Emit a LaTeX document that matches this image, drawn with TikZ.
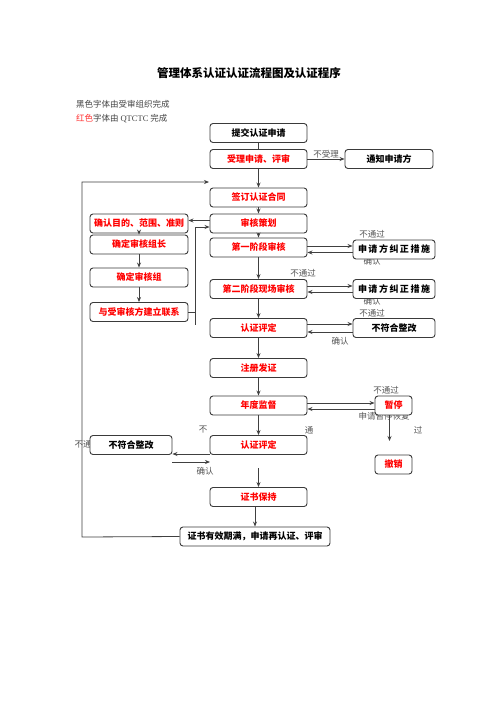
\documentclass[tikz,border=0pt]{standalone}
\usepackage{fontspec}
\setmainfont{Noto Sans CJK SC}
\newfontfamily\latinserif{Liberation Serif}
\usetikzlibrary{arrows.meta}
\definecolor{boxc}{HTML}{3A3A3A}
\definecolor{linec}{HTML}{404040}
\definecolor{labc}{HTML}{555555}
\definecolor{legc}{HTML}{444444}
\begin{document}
\begin{tikzpicture}[x=1pt,y=-1pt,
  box/.style={draw=boxc, line width=0.9pt, rounded corners=3pt, fill=white,
    minimum height=19pt, inner sep=0pt, font=\bfseries\fontsize{9}{10}\selectfont},
  rbox/.style={box, text=red},
  cbox/.style={rbox, minimum width=97pt},
  lbox/.style={rbox, minimum width=98pt},
  lab/.style={font=\fontsize{8.5}{9}\selectfont, text=labc, inner sep=0pt},
  arr/.style={-{Stealth[length=5pt,width=4pt]}, draw=linec, line width=0.8pt},
  ln/.style={draw=linec, line width=0.8pt}]
\useasboundingbox (0,0) rectangle (496,702);
\fill[white] (0,0) rectangle (496,702);

% title and legend
\node[font=\bfseries\fontsize{11.5}{12}\selectfont] (title) at (249,73) {管理体系认证认证流程图及认证程序};
\node[anchor=west, font=\fontsize{8.5}{9}\selectfont, text=legc, inner sep=0pt] (leg1) at (76,104) {黑色字体由受审组织完成};
\node[anchor=west, font=\fontsize{8.5}{9}\selectfont, text=legc, inner sep=0pt] (leg2) at (76,119) {\textcolor{red!80!white}{红色}字体由 {\latinserif QTCTC} 完成};

% labels drawn before boxes (some are partly covered)
\node[lab] (t1) at (372,261.5) {确认};
\node[lab] (t2) at (372,301) {确认};
\node[lab] (t3) at (384,416.5) {申请暂停恢复};
\node[lab] (t4) at (83,444) {不通};

% centre column
\node[box, minimum width=97pt] (n1) at (258.5,133) {提交认证申请};
\node[cbox] (n2) at (258.5,159) {受理申请、评审};
\node[cbox] (n3) at (258.5,197.5) {签订认证合同};
\node[cbox] (n4) at (258.5,223.5) {审核策划};
\node[cbox] (n5) at (258.5,247.5) {第一阶段审核};
\node[cbox] (n6) at (258.5,289) {第二阶段现场审核};
\node[cbox] (n7) at (258.5,328) {认证评定};
\node[cbox] (n8) at (258.5,368) {注册发证};
\node[cbox] (n9) at (258.5,405.5) {年度监督};
\node[cbox] (n10) at (258.5,445) {认证评定};
\node[cbox] (n11) at (258.5,497) {证书保持};
\node[box, minimum width=150pt] (n12) at (255,536.5) {证书有效期满，申请再认证、评审};

% left column
\node[lbox] (l1) at (139,223.5) {确认目的、范围、准则};
\node[lbox] (l2) at (139,244.5) {确定审核组长};
\node[lbox] (l3) at (139,277.5) {确定审核组};
\node[lbox] (l4) at (139,312) {与受审核方建立联系};
\node[box, minimum width=82pt] (ll) at (131,445) {不符合整改};

% right column
\node[box, minimum width=88pt] (r0) at (389,159) {通知申请方};
\node[box, minimum width=82pt] (r1) at (394,249.5) {申\,请\,方\,纠\,正\,措\,施};
\node[box, minimum width=82pt] (r2) at (394,289) {申\,请\,方\,纠\,正\,措\,施};
\node[box, minimum width=82pt] (r3) at (394,328) {不符合整改};
\node[rbox, minimum width=37pt] (r4) at (393.5,405.5) {暂停};
\node[rbox, minimum width=37pt] (r5) at (393.5,464.5) {撤销};

% other labels
\node[lab] (t5) at (326,154) {不受理};
\node[lab] (t6) at (372,234) {不通过};
\node[lab] (t7) at (303,273) {不通过};
\node[lab] (t8) at (372,313) {不通过};
\node[lab] (t9) at (340,341) {确认};
\node[lab] (t10) at (386,390) {不通过};
\node[lab] (t11) at (203,430) {不};
\node[lab] (t12) at (309,430) {通};
\node[lab] (t13) at (418,430) {过};
\node[lab] (t14) at (205,471) {确认};

% centre flow
\draw[ln] (n1) -- (n2);
\draw[arr] (n2) -- (r0);
\draw[arr] (n2) -- (n3);
\draw[arr] (n3) -- (n4);
\draw[arr] (n4) -- (n5);
\draw[arr] (n5) -- (n6);
\draw[arr] (n6) -- (n7);
\draw[arr] (n7) -- (n8);
\draw[arr] (n8) -- (n9);
\draw[arr] (n9) -- (n10);
\coordinate (c10) at (258.5,468);
\draw[arr] (c10) -- (n11);
\draw[arr] (n12.north |- n11.south) -- (n12.north);

% left column flow
\draw[arr] ([yshift=3pt]n4.west) -- ([yshift=3pt]l1.east);
\draw[arr] (l1) -- (l2);
\draw[arr] (l2) -- (l3);
\draw[arr] (l3) -- (l4);
\coordinate (bt) at (195,227);
\coordinate (bb) at (195,325);
\draw[ln] (bt) -- (bb);
\draw[ln] (l4.east) -- (l4.east -| bt);
\draw[arr] (bt) -- (bt -| n4.west);

% big return loop
\coordinate (lb) at (82,537);
\coordinate (lt) at (82,182);
\coordinate (la) at (209,182);
\draw[arr] (n12.west) -- (lb) -- (lt) -- (la);

% side loops
\draw[arr] (n5.east |- 0,246) -- (r1.west |- 0,246);
\draw[arr] (r1.west |- 0,252.5) -- (n5.east |- 0,252.5);
\draw[arr] (n6.east |- 0,286) -- (r2.west |- 0,286);
\draw[arr] (r2.west |- 0,292) -- (n6.east |- 0,292);
\draw[arr] (n7.east |- 0,324) -- (r3.west |- 0,324);
\draw[arr] (r3.west |- 0,332) -- (n7.east |- 0,332);
\draw[arr] (n9.east |- 0,403) -- (r4.west |- 0,403);
\draw[arr] (r4.west |- 0,409) -- (n9.east |- 0,409);
\coordinate (s1) at (389.5,441);
\draw[arr] (r4.south -| s1) -- (s1);
\draw[arr] (n10.west |- 0,454) -- (ll.east |- 0,454);
\coordinate (k1) at (172,462);
\coordinate (k2) at (210,462);
\draw[arr] (k1) -- (k2);
\end{tikzpicture}
\end{document}
